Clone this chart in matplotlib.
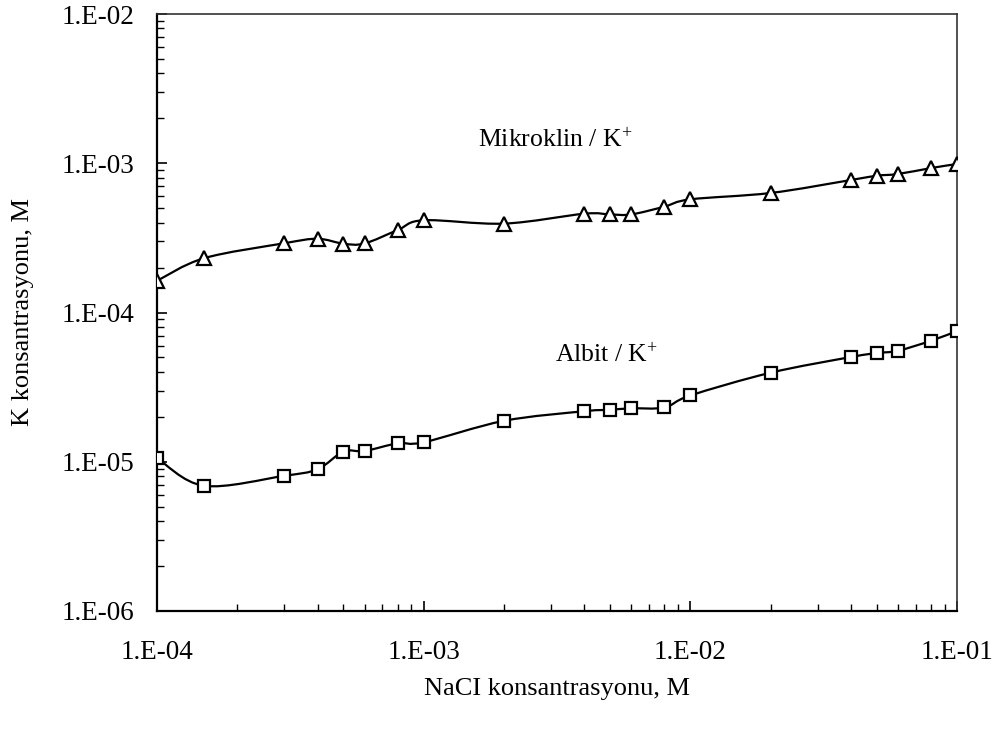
import matplotlib
matplotlib.use("Agg")
import matplotlib.pyplot as plt
import numpy as np
from matplotlib.path import Path
from matplotlib.patches import PathPatch
from matplotlib.ticker import LogLocator, FixedLocator, FixedFormatter, NullFormatter

plt.rcParams['font.family'] = ['Liberation Serif', 'DejaVu Serif']
plt.rcParams['mathtext.fontset'] = 'custom'
plt.rcParams['mathtext.rm'] = 'Liberation Serif'
plt.rcParams['mathtext.it'] = 'Liberation Serif:italic'

nacl = [1e-4, 1.5e-4, 3e-4, 4e-4, 5e-4, 6e-4, 8e-4, 1e-3, 2e-3, 4e-3,
        5e-3, 6e-3, 8e-3, 1e-2, 2e-2, 4e-2, 5e-2, 6e-2, 8e-2, 1e-1]
mikroklin = [1.63e-4, 2.31e-4, 2.91e-4, 3.12e-4, 2.89e-4, 2.90e-4, 3.57e-4, 4.15e-4,
             3.94e-4, 4.59e-4, 4.54e-4, 4.54e-4, 5.12e-4, 5.73e-4, 6.32e-4, 7.72e-4,
             8.25e-4, 8.47e-4, 9.29e-4, 9.89e-4]
albit = [1.06e-5, 6.90e-6, 8.05e-6, 8.91e-6, 1.17e-5, 1.18e-5, 1.33e-5, 1.35e-5,
         1.88e-5, 2.18e-5, 2.23e-5, 2.28e-5, 2.31e-5, 2.78e-5, 3.95e-5, 5.03e-5,
         5.35e-5, 5.54e-5, 6.47e-5, 7.51e-5]

x_ticks = [1e-4, 1e-3, 1e-2, 1e-1]
x_tick_labels = ["1.E-04", "1.E-03", "1.E-02", "1.E-01"]
y_ticks = [1e-6, 1e-5, 1e-4, 1e-3, 1e-2]
y_tick_labels = ["1.E-06", "1.E-05", "1.E-04", "1.E-03", "1.E-02"]


def smooth_path(xs, ys):
    """Excel-like smoothed line: cubic Bezier segments in log-log space."""
    lx = np.log10(xs)
    ly = np.log10(ys)
    pts = np.column_stack([lx, ly])
    n = len(pts)
    verts = [pts[0]]
    codes = [Path.MOVETO]
    for i in range(n - 1):
        p0 = pts[i - 1] if i > 0 else pts[i]
        p1 = pts[i]
        p2 = pts[i + 1]
        p3 = pts[i + 2] if i + 2 < n else pts[i + 1]
        c1 = p1 + (p2 - p0) / 6.0
        c2 = p2 - (p3 - p1) / 6.0
        verts += [c1, c2, p2]
        codes += [Path.CURVE4] * 3
    verts = 10 ** np.array(verts)
    return Path(verts, codes)


fig = plt.figure(figsize=(9.96, 7.29), dpi=100)
ax = fig.add_axes([157 / 996, 1 - 611 / 729, 800 / 996, 597 / 729])
ax.set_xscale("log")
ax.set_yscale("log")
ax.set_xlim(1e-4, 1e-1)
ax.set_ylim(1e-6, 1e-2)

for ys in (mikroklin, albit):
    ax.add_patch(PathPatch(smooth_path(nacl, ys), fill=False, edgecolor="black",
                           linewidth=1.6, zorder=2))

ax.plot(nacl, mikroklin, linestyle="none", marker="^", markersize=10,
        markerfacecolor="white", markeredgecolor="black", markeredgewidth=1.6, zorder=3)
ax.plot(nacl, albit, linestyle="none", marker="s", markersize=9,
        markerfacecolor="white", markeredgecolor="black", markeredgewidth=1.6, zorder=3)

ax.text(1.6e-3, 1.43e-3, r"Mikroklin / K$^{\mathrm{+}}$", fontsize=18.5,
        va="center", ha="left")
ax.text(3.11e-3, 5.19e-5, r"Albit / K$^{\mathrm{+}}$", fontsize=18.5,
        va="center", ha="left")

ax.xaxis.set_major_locator(FixedLocator(x_ticks))
ax.xaxis.set_major_formatter(FixedFormatter(x_tick_labels))
ax.yaxis.set_major_locator(FixedLocator(y_ticks))
ax.yaxis.set_major_formatter(FixedFormatter(y_tick_labels))
for axis in (ax.xaxis, ax.yaxis):
    axis.set_minor_locator(LogLocator(base=10, subs=np.arange(2, 10), numticks=20))
    axis.set_minor_formatter(NullFormatter())

ax.tick_params(axis="both", which="both", direction="in", top=False, right=False,
               labelsize=19.5, colors="black")
ax.tick_params(axis="both", which="major", length=7, width=1.2)
ax.tick_params(axis="both", which="minor", length=5, width=1.0)
ax.tick_params(axis="x", which="major", pad=21)
ax.tick_params(axis="y", which="major", pad=16)

for side in ("left", "bottom"):
    ax.spines[side].set_linewidth(1.6)
for side in ("top", "right"):
    ax.spines[side].set_linewidth(1.2)
    ax.spines[side].set_color("#333333")

ax.set_xlabel("NaCI konsantrasyonu, M", fontsize=19, labelpad=9)
ax.set_ylabel("K konsantrasyonu, M", fontsize=19, labelpad=20)

fig.savefig("out.png", dpi=100)
